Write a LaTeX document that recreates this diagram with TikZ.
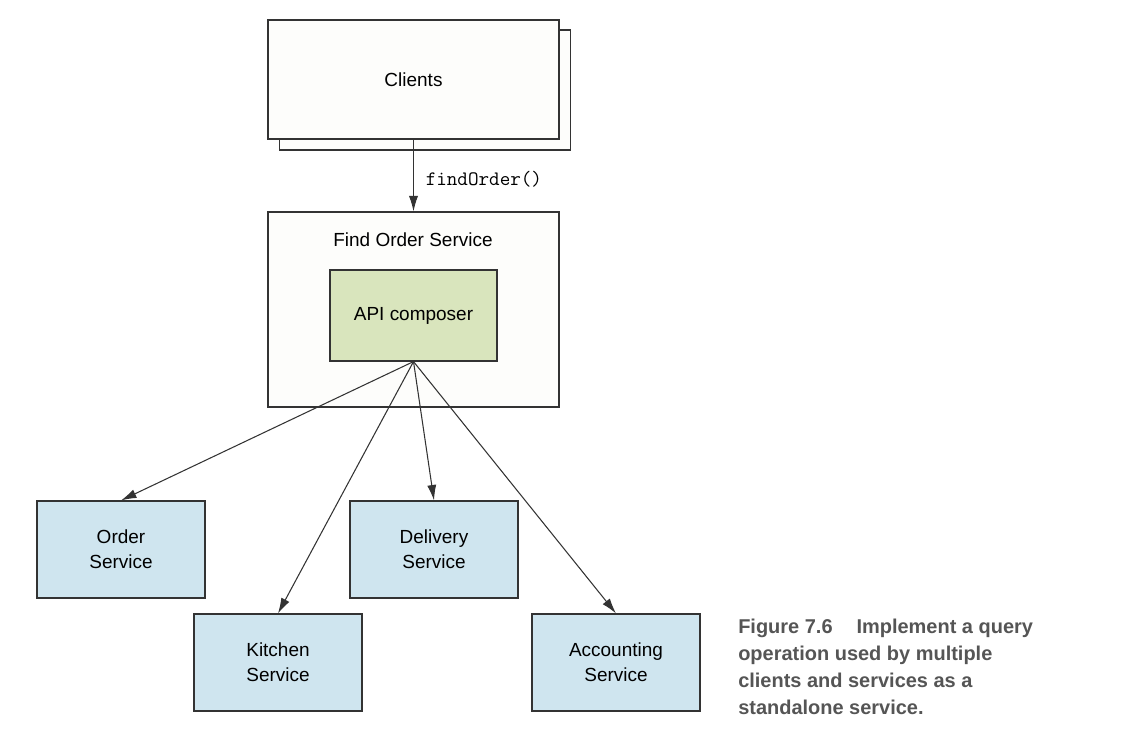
\documentclass[tikz,border=0pt]{standalone}
\usepackage{fontspec}
\setmainfont{Liberation Sans}
\usepackage{xcolor}
\usetikzlibrary{arrows.meta, positioning}

\definecolor{edgegray}{HTML}{333333}
\definecolor{paperfill}{HTML}{FDFDFB}
\definecolor{apigreen}{HTML}{D9E5BD}
\definecolor{svcblue}{HTML}{CFE5EF}
\definecolor{capgray}{HTML}{555555}

\begin{document}
\begin{tikzpicture}[
  x=0.025cm, y=-0.025cm,
  box/.style={draw=edgegray, line width=0.8pt, fill=paperfill, font=\fontsize{13.5}{18}\selectfont},
  svc/.style={box, fill=svcblue, minimum width=4.2cm, minimum height=2.425cm, align=center},
  call/.style={-{Latex[length=11pt, width=6.5pt]}, draw=edgegray, line width=0.75pt},
]
\useasboundingbox (0,0) rectangle (1128,744);

% clients, drawn as a stack
\node[box, minimum width=7.275cm, minimum height=3cm] (back) at (425,90) {};
\node[box, minimum width=7.275cm, minimum height=2.975cm] (clients) at (413.5,79.5) {Clients};

% the new service
\node[box, minimum width=7.275cm, minimum height=4.875cm] (findsvc) at (413.5,309.5) {};
\node[font=\fontsize{13.5}{16}\selectfont] (title) at (413,240) {Find Order Service};
\node[box, fill=apigreen, minimum width=4.175cm, minimum height=2.275cm] (api) at (413.5,315.5) {API composer};

\draw[call] (clients.south) -- node[right, font=\ttfamily\fontsize{14.6}{16}\selectfont, xshift=5pt, yshift=-3pt] (lbl) {findOrder()} (findsvc.north);

% backing services
\node[svc] (order) at (121,549.5) {Order\\Service};
\node[svc] (delivery) at (434,549.5) {Delivery\\Service};
\node[svc] (kitchen) at (278,662.5) {Kitchen\\Service};
\node[svc] (accounting) at (616,662.5) {Accounting\\Service};

\foreach \s in {order, kitchen, delivery, accounting}
  \draw[call] (api.south) -- (\s.north);

% caption
\node[anchor=north west, align=left, inner sep=0pt, text=capgray,
  font=\bfseries\fontsize{14.2}{19.2}\selectfont] (caption) at (738,619)
  {Figure 7.6\hspace{1.2em}Implement a query\\operation used by multiple\\clients and services as a\\standalone service.};
\end{tikzpicture}
\end{document}
